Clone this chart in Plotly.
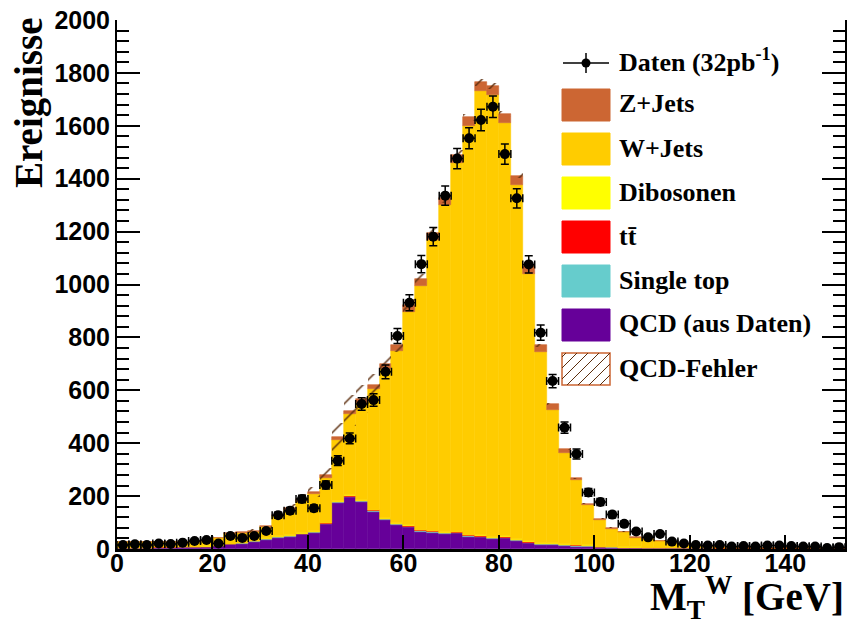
import numpy as np
import plotly.graph_objects as go

# ---------------- data (bins of 2.5 GeV from 0 to 152.5) ----------------
bin_low = 0.0
bin_width = 2.5

data = [15, 18, 15, 21, 19, 24, 30, 34, 21, 49,
        42, 49, 68, 128, 145, 189, 154, 242, 334, 418,
        548, 563, 670, 805, 931, 1077, 1181, 1336, 1476, 1553,
        1622, 1672, 1493, 1326, 1076, 818, 635, 459, 359, 214,
        178, 130, 95, 66, 44, 57, 28, 21, 15, 13,
        15, 9, 11, 9, 13, 13, 11, 9, 9, 4, 7]

qcd = [4, 4, 4, 5, 5, 6, 7, 8, 12, 19,
       20, 28, 35, 42, 47, 55, 62, 93, 175, 197,
       177, 141, 110, 91, 82, 66, 62, 57, 59, 47,
       44, 38, 40, 30, 21, 15, 15, 11, 9, 7,
       6, 5, 4, 4, 3, 3, 2, 2, 2, 2,
       1, 1, 1, 1, 1, 1, 1, 1, 1, 1, 1]

single_top = [0.5, 0.5, 0.5, 0.5, 0.5, 0.5, 0.5, 0.5, 0.5, 0.5,
              1.5, 1.5, 1.5, 1.5, 1.5, 1.5, 1.5, 1.5, 1.5, 1.5,
              3, 3, 3, 3, 3, 3, 3, 3, 3, 3,
              3, 3, 3, 3, 3, 3, 3, 3, 3, 3,
              1, 1, 1, 1, 1, 1, 1, 1, 1, 1,
              0.5, 0.5, 0.5, 0.5, 0.5, 0.5, 0.5, 0.5, 0.5, 0.5, 0.5]

ttbar = [0.5, 0.5, 0.5, 0.5, 0.5, 0.5, 0.5, 0.5, 0.5, 0.5,
         0.5, 0.5, 2, 2, 2, 2, 2, 2, 2, 2,
         2, 2, 2, 2, 2, 2, 2, 2, 2, 2,
         2, 2, 2, 2, 2, 2, 2, 2, 2, 2,
         0.5, 0.5, 0.5, 0.5, 0.5, 0.5, 0.5, 0.5, 0.5, 0.5,
         0.5, 0.5, 0.5, 0.5, 0.5, 0.5, 0.5, 0.5, 0.5, 0.5, 0.5]

diboson = [0.5, 0.5, 0.5, 0.5, 0.5, 0.5, 0.5, 0.5, 0.5, 0.5,
           0.5, 0.5, 2, 2, 2, 2, 2, 2, 2, 2,
           2, 2, 2, 2, 2, 2, 2, 2, 2, 2,
           4, 4, 4, 4, 4, 4, 4, 4, 2, 2,
           1, 1, 1, 1, 1, 1, 1, 1, 1, 1,
           0.5, 0.5, 0.5, 0.5, 0.5, 0.5, 0.5, 0.5, 0.5, 0.5, 0.5]

wjets = [19.5, 20.5, 20.5, 19.5, 20.5, 19.5, 19.5, 19.5, 26.5, 35.5,
         36.5, 33.5, 41.5, 76.5, 96.5, 122.5, 141.5, 169.5, 232.5, 308.5,
         368, 456, 563, 652, 808, 920, 1100, 1235, 1395, 1546,
         1677, 1671, 1563, 1339, 1008, 721, 503, 344, 243, 152,
         101.5, 68.5, 56.5, 36.5, 31.5, 24.5, 16.5, 11.5, 6.5, 4.5,
         5, 4, 3, 2, 1, 1, 0.5, 0.5, 0.5, 0.3, 0.3]

zjets = [1, 1, 1, 1, 1, 1, 2, 2, 3, 3,
         4, 4, 5, 6, 6, 7, 8, 10, 10, 12,
         14, 16, 18, 21, 24, 27, 27, 27, 30, 32,
         34, 34, 33, 33, 32, 25, 21, 13, 8, 6,
         5, 4, 3, 3, 2, 2, 2, 1, 1, 1,
         0.5, 0.5, 0.5, 0.5, 0.5, 0.5, 0.5, 0.5, 0.5, 0.5, 0.5]

qcd_err = [1, 1, 1, 2, 2, 2, 2, 2, 4, 6,
           6, 8, 10, 13, 14, 17, 19, 28, 53, 59,
           53, 42, 33, 27, 25, 20, 19, 17, 18, 14,
           13, 11, 12, 9, 6, 5, 5, 3, 3, 2,
           2, 2, 1, 1, 1, 1, 1, 1, 1, 1,
           0.5, 0.5, 0.5, 0.5, 0.5, 0.5, 0.5, 0.5, 0.5, 0.5, 0.5]

x_ticks = [0, 20, 40, 60, 80, 100, 120, 140]
y_ticks = [0, 200, 400, 600, 800, 1000, 1200, 1400, 1600, 1800, 2000]

# ---------------- figure ----------------
n = len(data)
x = bin_low + bin_width * (np.arange(n) + 0.5)

stack = [
    ("QCD (aus Daten)", qcd, "#660099"),
    ("Single top", single_top, "#66cccc"),
    ("tt\u0304", ttbar, "#ff0000"),
    ("Dibosonen", diboson, "#ffff00"),
    ("W+Jets", wjets, "#ffcc00"),
    ("Z+Jets", zjets, "#cc6633"),
]

fig = go.Figure()
base = np.zeros(n)
for name, vals, col in stack:
    v = np.array(vals, dtype=float)
    fig.add_trace(go.Bar(
        x=x, y=v, base=base.copy(), width=bin_width, name=name,
        marker=dict(color=col, line=dict(color=col, width=0.6)),
        showlegend=False, hoverinfo="skip"))
    base = base + v
total = base

err = np.array(qcd_err, dtype=float)
fig.add_trace(go.Bar(
    x=x, y=2 * err, base=total - err, width=bin_width, name="QCD-Fehler",
    marker=dict(color="rgba(0,0,0,0)", line=dict(width=0),
                pattern=dict(shape="/", fgcolor="#5c2e0e", bgcolor="rgba(0,0,0,0)",
                             size=12, solidity=0.12, fillmode="replace")),
    showlegend=False, hoverinfo="skip"))

d = np.array(data, dtype=float)
fig.add_trace(go.Scatter(
    x=x, y=d, mode="markers", name="Daten",
    marker=dict(color="black", size=10),
    error_y=dict(type="data", array=np.sqrt(d), color="black", thickness=1.5, width=4),
    error_x=dict(type="constant", value=bin_width / 2, color="black", thickness=1.5, width=4),
    showlegend=False))

# ---------------- manual ROOT-style legend ----------------
L, R, T, B = 117, 845, 20, 549
W_, H_ = R - L, B - T
def px(v):
    return (v - L) / W_
def py(v):
    return (B - v) / H_

shapes = []
annotations = []
lfont = dict(family="Liberation Serif", size=26, color="black", weight="bold")

# Daten entry
yd = 63
shapes.append(dict(type="line", xref="paper", yref="paper", x0=px(563), x1=px(609), y0=py(yd), y1=py(yd),
                   line=dict(color="black", width=1.5)))
shapes.append(dict(type="line", xref="paper", yref="paper", x0=px(586), x1=px(586), y0=py(yd - 10), y1=py(yd + 10),
                   line=dict(color="black", width=1.5)))
shapes.append(dict(type="circle", xref="paper", yref="paper", x0=px(581.5), x1=px(590.5), y0=py(yd - 4.5), y1=py(yd + 4.5),
                   fillcolor="black", line=dict(color="black", width=0)))
annotations.append(dict(xref="paper", yref="paper", x=px(617), y=py(yd - 2), xanchor="left", yanchor="middle",
                        text="Daten (32pb<sup>-1</sup>)", showarrow=False, font=lfont))

legend_items = [("Z+Jets", "#cc6633"), ("W+Jets", "#ffcc00"), ("Dibosonen", "#ffff00"),
                ("tt\u0304", "#ff0000"), ("Single top", "#66cccc"), ("QCD (aus Daten)", "#660099")]
bx0, bx1 = 562, 610
for i, (name, col) in enumerate(legend_items):
    yc = 105 + 44 * i
    shapes.append(dict(type="rect", xref="paper", yref="paper", x0=px(bx0), x1=px(bx1),
                       y0=py(yc - 16), y1=py(yc + 16), fillcolor=col, line=dict(color=col, width=1), layer="above"))
    annotations.append(dict(xref="paper", yref="paper", x=px(617), y=py(yc - 1), xanchor="left", yanchor="middle",
                            text=name, showarrow=False, font=lfont))

# QCD-Fehler hatched entry
yc = 105 + 44 * 6
y_top, y_bot = yc - 16, yc + 16
h = y_bot - y_top
shapes.append(dict(type="rect", xref="paper", yref="paper", x0=px(bx0), x1=px(bx1),
                   y0=py(y_bot), y1=py(y_top), fillcolor="white", line=dict(color="#cc6633", width=1.5), layer="above"))
for c in np.arange(-h + 4, bx1 - bx0, 11):
    t0 = max(0.0, -c)
    t1 = min(h, (bx1 - bx0) - c)
    if t1 > t0:
        shapes.append(dict(type="line", xref="paper", yref="paper",
                           x0=px(bx0 + c + t0), y0=py(y_bot - t0), x1=px(bx0 + c + t1), y1=py(y_bot - t1),
                           line=dict(color="#5c2e0e", width=1), layer="above"))
annotations.append(dict(xref="paper", yref="paper", x=px(617), y=py(yc - 1), xanchor="left", yanchor="middle",
                        text="QCD-Fehler", showarrow=False, font=lfont))

# axis titles
tfont = dict(family="Liberation Serif", size=39, color="black", weight="bold")
annotations.append(dict(xref="paper", yref="paper", x=px(29), y=py(103), xanchor="center", yanchor="middle",
                        text="Ereignisse", textangle=-90, showarrow=False, font=tfont))
annotations.append(dict(xref="paper", yref="paper", x=px(846), y=py(627), xanchor="right", yanchor="bottom",
                        text="M<sub>T</sub><sup>W</sup> [GeV]", showarrow=False, font=tfont))

tick_font = dict(family="Liberation Sans", size=25, color="black", weight="bold")
fig.update_layout(
    template="none",
    width=850, height=628,
    margin=dict(l=L, r=850 - R, t=T, b=628 - B),
    paper_bgcolor="white", plot_bgcolor="white",
    barmode="overlay", bargap=0,
    shapes=shapes, annotations=annotations,
    xaxis=dict(range=[0, 152.5], tickvals=x_ticks, ticks="inside", ticklen=14, tickwidth=2,
               tickcolor="black", showline=True, linewidth=2.5, linecolor="black",
               showgrid=False, zeroline=False, tickfont=tick_font, mirror=False,
               ticklabelstandoff=-10, minor=dict(showgrid=False, ticks="")),
    yaxis=dict(range=[0, 2000], tickvals=y_ticks, ticks="inside", ticklen=23, tickwidth=2,
               tickcolor="black", showline=True, linewidth=2, linecolor="black",
               showgrid=False, zeroline=False, tickfont=tick_font, mirror="ticks",
               minor=dict(dtick=40, ticks="inside", ticklen=12, tickwidth=1.5, tickcolor="black",
                          showgrid=False)),
)

fig.write_html("out.html")
